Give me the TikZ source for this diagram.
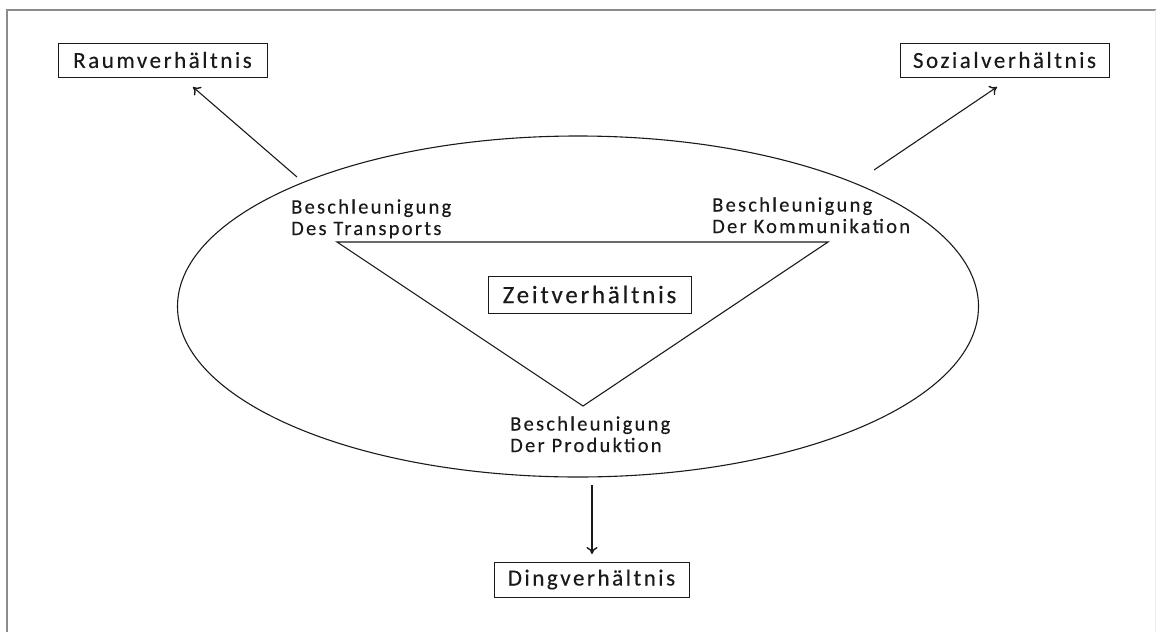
\documentclass[tikz,border=0pt]{standalone}
\usepackage{fontspec}
\setmainfont{Carlito}[LetterSpace=11, FakeBold=0.3]
\usetikzlibrary{arrows.meta,shapes.geometric}
\definecolor{ink}{HTML}{1A1A1A}
\tikzset{
  box/.style={draw=ink, line width=1pt, inner sep=0pt, minimum height=34pt, text=ink, font=\fontsize{23}{27}\selectfont},
  lbl/.style={align=left, inner sep=0pt, text=ink, font=\fontsize{20.5}{21.5}\selectfont},
  ln/.style={draw=ink, line width=1.1pt},
  arr/.style={ln, -{To[length=7pt,width=11pt,line width=1.4pt]}},
}
\begin{document}
\begin{tikzpicture}[x=1pt,y=-1pt]
\useasboundingbox (0,0) rectangle (1156,632);
% frame
\draw[gray!90, line width=1.2pt] (7,632) -- (7,10) -- (1156,10);
\draw[gray!15, line width=1pt] (1155,10) -- (1155,632);
% ellipse
\node[ellipse, ln, minimum width=801pt, minimum height=341pt, inner sep=0pt] (ell) at (578,306.5) {};
% boxes
\node[box, minimum width=209pt] (raum) at (162.5,60) {Raumverhältnis};
\node[box, minimum width=209pt] (sozial) at (1004.5,60) {Sozialverhältnis};
\node[box, minimum width=195pt, minimum height=35pt] (ding) at (591.5,579.5) {Dingverhältnis};
\node[box, minimum width=203pt, minimum height=37pt, font=\fontsize{25}{29}\selectfont] (zeit) at (589.5,294.5) {Zeitverhältnis};
% triangle
\coordinate (tl) at (337,242);
\coordinate (tr) at (828,242);
\coordinate (tb) at (583,406);
\draw[ln] (tl) -- (tr) -- (tb) -- cycle;
% labels (anchor on the baseline of the last line)
\node[lbl, anchor=base west] (transp) at (291,235) {Beschleunigung\\Des Transports};
\node[lbl, anchor=base west] (komm) at (712,233) {Beschleunigung\\Der Kommunikation};
\node[lbl, anchor=base west] (prod) at (510,452) {Beschleunigung\\Der Produktion};
% arrows
\coordinate (s1) at (297,177);
\coordinate (e1) at (193,87);
\coordinate (s2) at (874,170);
\coordinate (e2) at (997,87);
\coordinate (s3) at (592,485);
\coordinate (e3) at (592,554);
\draw[arr] (s1) -- (e1);
\draw[arr] (s2) -- (e2);
\draw[arr] (s3) -- (e3);
\end{tikzpicture}
\end{document}
